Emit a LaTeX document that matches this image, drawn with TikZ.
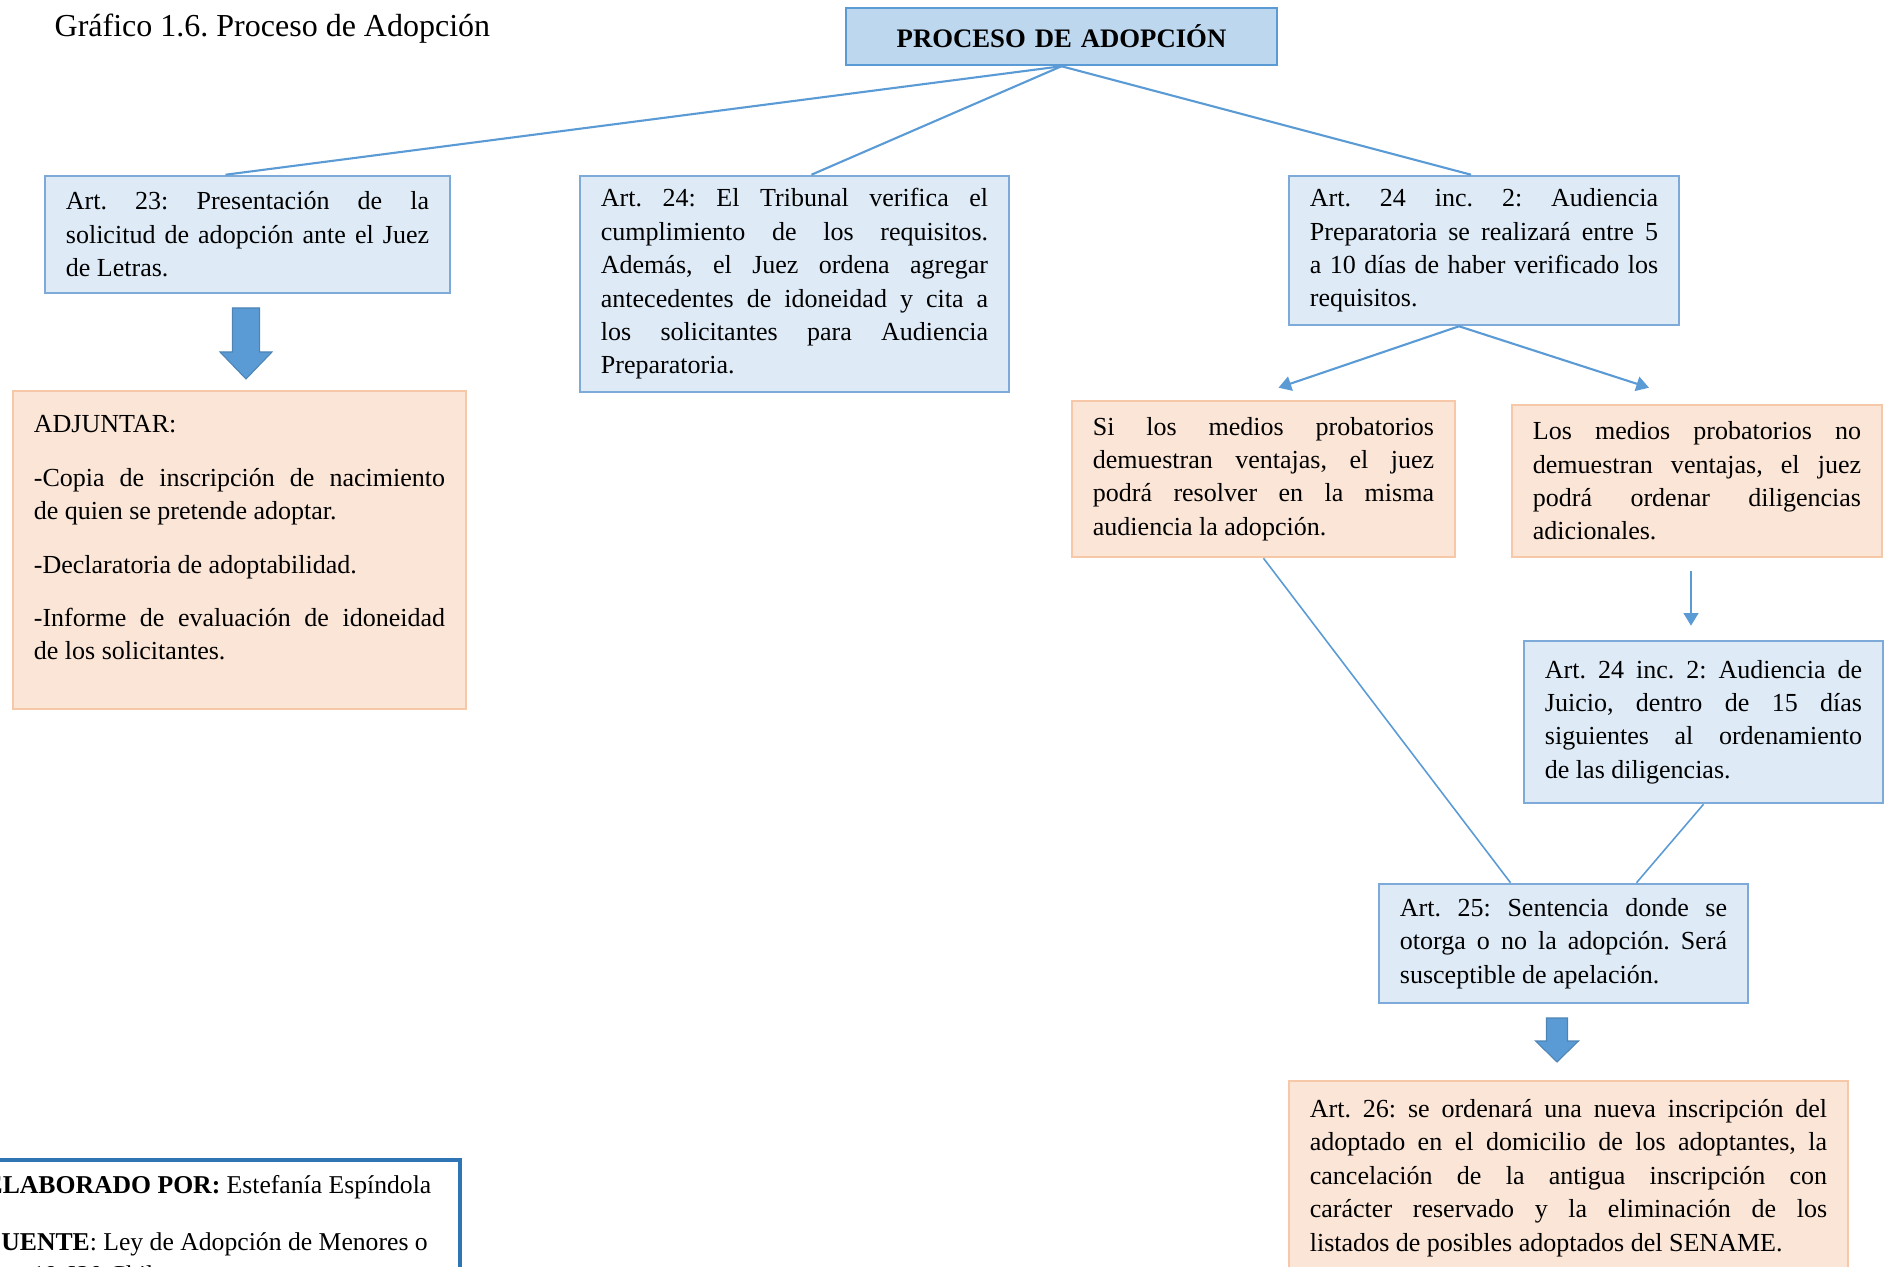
\documentclass[tikz,border=0pt]{standalone}
\usepackage{fontspec}
\setmainfont{Liberation Serif}
\usetikzlibrary{arrows.meta,calc}

\definecolor{bluefill}{HTML}{DEEBF7}
\definecolor{blueedge}{HTML}{7DAAD9}
\definecolor{titlefill}{HTML}{BDD7EE}
\definecolor{peachfill}{HTML}{FBE5D6}
\definecolor{peachedge}{HTML}{F6C8A8}
\definecolor{linkblue}{HTML}{5B9BD5}
\definecolor{footedge}{HTML}{2E75B6}
\newcommand{\boxfont}{\fontsize{7.4}{9.5}\selectfont\frenchspacing}
\newcommand{\footfont}{\fontsize{7.3}{9}\selectfont}

\begin{document}
\begin{tikzpicture}[x=0.01cm,y=-0.01cm,every node/.style={inner sep=0pt},
	bluebox/.style={draw=blueedge,fill=bluefill,line width=0.7pt,inner xsep=0.21cm,align=justify,font=\boxfont},
	peachbox/.style={bluebox,draw=peachedge,fill=peachfill},
	link/.style={draw=linkblue,line width=0.6pt},
	thinlink/.style={draw=linkblue,line width=0.45pt},
	arrowlink/.style={link,-{Triangle[length=3.6pt,width=4.2pt]}},
	bigarrow/.style={fill=linkblue,draw=linkblue!85!black,line width=0.3pt}]
	\useasboundingbox (0,0) rectangle (1890,1267);
	\clip (0,0) rectangle (1890,1267);

	%header
	\node[anchor=base west,font=\fontsize{9.1}{11}\selectfont\frenchspacing] (caption) at (54,37) {Gráfico 1.6. Proceso de Adopción};
	\node[bluebox,fill=titlefill,draw=linkblue,text width=3.89cm,minimum height=0.57cm,align=center,font=\bfseries\fontsize{7.6}{9}\selectfont] (title) at (1061.5,36.5) {PROCESO DE ADOPCIÓN};

	%first row
	\node[bluebox,text width=3.63cm,minimum height=1.17cm] (a23) at (247.5,234.5) {Art. 23: Presentación de la\linebreak solicitud de adopción ante el Juez\linebreak de Letras.};
	\node[bluebox,text width=3.87cm,minimum height=2.16cm] (a24) at (794.5,284) {Art. 24: El Tribunal verifica el\linebreak cumplimiento de los requisitos.\linebreak Además, el Juez ordena agregar\linebreak antecedentes de idoneidad y cita a\linebreak los solicitantes para Audiencia\linebreak Preparatoria.};
	\node[bluebox,text width=3.48cm,minimum height=1.49cm] (prep) at (1484,250.5) {Art. 24 inc. 2: Audiencia\linebreak Preparatoria se realizará entre 5\linebreak a 10 días de haber verificado los\linebreak requisitos.};

	%second row
	\node[peachbox,text width=4.11cm,minimum height=3.18cm] (adj) at (239.5,550) {ADJUNTAR:\par\vspace{5.7pt}
		-Copia de inscripción de nacimiento\linebreak de quien se pretende adoptar.\par\vspace{5.7pt}
		-Declaratoria de adoptabilidad.\par\vspace{5.7pt}
		-Informe de evaluación de idoneidad\linebreak de los solicitantes.\par\hrule height 0.24cm depth 0pt width 0pt};
	\node[peachbox,text width=3.41cm,minimum height=1.56cm] (si) at (1263.5,479) {Si los medios probatorios\linebreak demuestran ventajas, el juez\linebreak podrá resolver en la misma\linebreak audiencia la adopción.};
	\node[peachbox,text width=3.28cm,minimum height=1.52cm] (no) at (1697,481) {Los medios probatorios no\linebreak demuestran ventajas, el juez\linebreak podrá ordenar diligencias\linebreak adicionales.};

	%lower right
	\node[bluebox,text width=3.17cm,minimum height=1.62cm] (juicio) at (1703.5,722) {Art. 24 inc. 2: Audiencia de\linebreak Juicio, dentro de 15 días\linebreak siguientes al ordenamiento\linebreak de las diligencias.};
	\node[bluebox,text width=3.27cm,minimum height=1.19cm] (a25) at (1563.5,943.5) {Art. 25: Sentencia donde se\linebreak otorga o no la adopción. Será\linebreak susceptible de apelación.};
	\node[peachbox,text width=5.17cm,minimum height=1.94cm] (a26) at (1568.5,1178) {Art. 26: se ordenará una nueva inscripción del\linebreak adoptado en el domicilio de los adoptantes, la\linebreak cancelación de la antigua inscripción con\linebreak carácter reservado y la eliminación de los\linebreak listados de posibles adoptados del SENAME.};

	%footer
	\draw[footedge,line width=0.9pt] (-20,1160) rectangle (460,1300);
	\node[anchor=base west,font=\footfont] (elab) at (-15,1193) {\textbf{ELABORADO POR:} Estefanía Espíndola};
	\node[anchor=base west,font=\footfont] (fuente) at (-15,1250) {\textbf{FUENTE}: Ley de Adopción de Menores o};
	\node[anchor=base west,font=\footfont] (ley) at (-15,1283) {Ley 19.620 Chile};

	%edges
	\draw[link] (title.south) -- ($(a23.north)+(-22,0)$);
	\draw[link] (title.south) -- ($(a24.north)+(17,0)$);
	\draw[link] (title.south) -- ($(prep.north)+(-13,0)$);
	\draw[arrowlink] ($(prep.south)+(-25,0)$) -- ($(si.north)+(15,-12)$);
	\draw[arrowlink] ($(prep.south)+(-25,0)$) -- ($(no.north)+(-48,-16)$);
	\draw[arrowlink] ($(no.south)+(-6,13)$) -- ($(juicio.north)+(-12.5,-14)$);
	\draw[thinlink] (si.south) -- ($(a25.north)+(-53,0)$);
	\draw[thinlink] (juicio.south) -- ($(a25.north)+(73,0)$);

	%block arrows
	\fill[bigarrow] (232.5,308) -- ++(27,0) -- ++(0,44) -- ++(12.5,0) -- ++(-26,27) -- ++(-26,-27) -- ++(12.5,0) -- cycle;
	\fill[bigarrow] (1546.5,1018) -- ++(21,0) -- ++(0,23) -- ++(11,0) -- ++(-21.5,21) -- ++(-21.5,-21) -- ++(11,0) -- cycle;
\end{tikzpicture}
\end{document}
